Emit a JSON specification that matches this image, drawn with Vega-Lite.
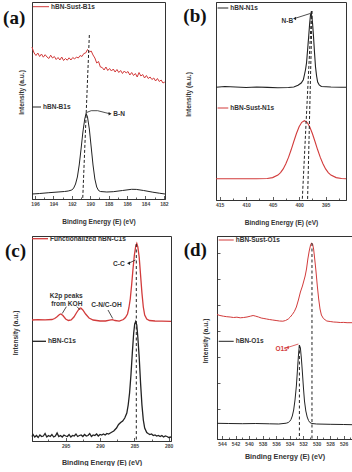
{
"$schema": "https://vega.github.io/schema/vega-lite/v6.json",
"background": "white",
"padding": {"left": 2, "top": 1, "right": 0, "bottom": 0},
"config": {
 "view": {"stroke": "#333", "strokeWidth": 1},
 "axis": {"grid": false, "domainColor": "#333", "domainWidth": 1, "tickColor": "#333", "tickWidth": 0.8, "labelFont": "Liberation Sans", "labelFontSize": 5, "labelFontWeight": "bold", "labelColor": "#444", "titleFont": "Liberation Sans", "titleFontSize": 6.6, "titleFontWeight": "bold", "titleColor": "#333", "labelOverlap": false, "labelFlush": false},
 "text": {"font": "Liberation Sans"}
},
"spacing": 8,
"vconcat": [
{"hconcat": [
{
 "width": 133, "height": 197,
 "encoding": {
  "x": {"field": "e", "type": "quantitative", "scale": {"domain": [196.33, 181.88], "nice": false, "zero": false},
   "axis": {"title": "Binding Energy (E) (eV)", "values": [196,195,194,193,192,191,190,189,188,187,186,185,184,183,182], "labelExpr": "datum.value % 2 === 0 ? datum.label : ''", "tickSize": {"condition": {"test": "datum.value % 2 === 0", "value": -3.5}, "value": -2}, "labelPadding": 6, "titleY": 22, "titleBaseline": "middle"}},
  "y": {"field": "v", "type": "quantitative", "scale": {"domain": [0, 197], "nice": false, "zero": false},
   "axis": {"title": "Intensity (a.u.)", "labels": false, "ticks": false, "titleX": -11, "titleY": 90, "titleBaseline": "middle"}}
 },
 "layer": [
  {"data": {"values": [
   {"e":196.33,"v":152,"s":"hBN-Sust-B1s"},{"e":196.3,"v":151,"s":"hBN-Sust-B1s"},{"e":196.1,"v":146,"s":"hBN-Sust-B1s"},{"e":195.9,"v":143.5,"s":"hBN-Sust-B1s"},{"e":195.7,"v":146,"s":"hBN-Sust-B1s"},{"e":195.5,"v":142.5,"s":"hBN-Sust-B1s"},{"e":195.3,"v":145,"s":"hBN-Sust-B1s"},{"e":195.1,"v":141.8,"s":"hBN-Sust-B1s"},{"e":194.9,"v":144.3,"s":"hBN-Sust-B1s"},{"e":194.7,"v":142,"s":"hBN-Sust-B1s"},{"e":194.5,"v":140.5,"s":"hBN-Sust-B1s"},{"e":194.3,"v":143.8,"s":"hBN-Sust-B1s"},{"e":194.1,"v":141,"s":"hBN-Sust-B1s"},{"e":193.9,"v":142.5,"s":"hBN-Sust-B1s"},{"e":193.7,"v":139.5,"s":"hBN-Sust-B1s"},{"e":193.5,"v":141.5,"s":"hBN-Sust-B1s"},{"e":193.3,"v":139,"s":"hBN-Sust-B1s"},{"e":193.1,"v":142,"s":"hBN-Sust-B1s"},{"e":192.9,"v":138.5,"s":"hBN-Sust-B1s"},{"e":192.7,"v":140.5,"s":"hBN-Sust-B1s"},{"e":192.5,"v":138.8,"s":"hBN-Sust-B1s"},{"e":192.3,"v":141.2,"s":"hBN-Sust-B1s"},{"e":192.1,"v":139,"s":"hBN-Sust-B1s"},{"e":191.9,"v":141.5,"s":"hBN-Sust-B1s"},{"e":191.7,"v":140,"s":"hBN-Sust-B1s"},{"e":191.5,"v":142,"s":"hBN-Sust-B1s"},{"e":191.3,"v":141,"s":"hBN-Sust-B1s"},{"e":191.1,"v":143.5,"s":"hBN-Sust-B1s"},{"e":190.9,"v":142.5,"s":"hBN-Sust-B1s"},{"e":190.7,"v":145.5,"s":"hBN-Sust-B1s"},{"e":190.5,"v":146,"s":"hBN-Sust-B1s"},{"e":190.3,"v":149.5,"s":"hBN-Sust-B1s"},{"e":190.1,"v":147,"s":"hBN-Sust-B1s"},{"e":189.9,"v":148,"s":"hBN-Sust-B1s"},{"e":189.7,"v":144,"s":"hBN-Sust-B1s"},{"e":189.5,"v":141,"s":"hBN-Sust-B1s"},{"e":189.3,"v":136,"s":"hBN-Sust-B1s"},{"e":189.1,"v":137.5,"s":"hBN-Sust-B1s"},{"e":188.9,"v":132,"s":"hBN-Sust-B1s"},{"e":188.7,"v":131.5,"s":"hBN-Sust-B1s"},{"e":188.5,"v":129,"s":"hBN-Sust-B1s"},{"e":188.3,"v":132,"s":"hBN-Sust-B1s"},{"e":188.1,"v":128.5,"s":"hBN-Sust-B1s"},{"e":187.9,"v":130.5,"s":"hBN-Sust-B1s"},{"e":187.7,"v":128,"s":"hBN-Sust-B1s"},{"e":187.5,"v":130,"s":"hBN-Sust-B1s"},{"e":187.3,"v":127,"s":"hBN-Sust-B1s"},{"e":187.1,"v":129.5,"s":"hBN-Sust-B1s"},{"e":186.9,"v":126.5,"s":"hBN-Sust-B1s"},{"e":186.7,"v":128.5,"s":"hBN-Sust-B1s"},{"e":186.5,"v":125.5,"s":"hBN-Sust-B1s"},{"e":186.3,"v":128,"s":"hBN-Sust-B1s"},{"e":186.1,"v":126,"s":"hBN-Sust-B1s"},{"e":185.9,"v":127.5,"s":"hBN-Sust-B1s"},{"e":185.7,"v":124,"s":"hBN-Sust-B1s"},{"e":185.5,"v":126.5,"s":"hBN-Sust-B1s"},{"e":185.3,"v":123.5,"s":"hBN-Sust-B1s"},{"e":185.1,"v":125.5,"s":"hBN-Sust-B1s"},{"e":184.9,"v":122,"s":"hBN-Sust-B1s"},{"e":184.7,"v":126.5,"s":"hBN-Sust-B1s"},{"e":184.5,"v":123,"s":"hBN-Sust-B1s"},{"e":184.3,"v":124.5,"s":"hBN-Sust-B1s"},{"e":184.1,"v":121,"s":"hBN-Sust-B1s"},{"e":183.9,"v":123.5,"s":"hBN-Sust-B1s"},{"e":183.7,"v":120.5,"s":"hBN-Sust-B1s"},{"e":183.5,"v":122,"s":"hBN-Sust-B1s"},{"e":183.3,"v":119.5,"s":"hBN-Sust-B1s"},{"e":183.1,"v":121,"s":"hBN-Sust-B1s"},{"e":182.9,"v":118,"s":"hBN-Sust-B1s"},{"e":182.7,"v":120.5,"s":"hBN-Sust-B1s"},{"e":182.5,"v":117.5,"s":"hBN-Sust-B1s"},{"e":182.3,"v":119,"s":"hBN-Sust-B1s"},{"e":182.1,"v":116,"s":"hBN-Sust-B1s"},{"e":181.9,"v":117,"s":"hBN-Sust-B1s"},
   {"e":196.33,"v":5,"s":"hBN-B1s"},{"e":195.5,"v":5.5,"s":"hBN-B1s"},{"e":194.5,"v":6.3,"s":"hBN-B1s"},{"e":193.5,"v":7,"s":"hBN-B1s"},{"e":192.8,"v":7.5,"s":"hBN-B1s"},{"e":192.4,"v":8,"s":"hBN-B1s"},{"e":192.0,"v":9,"s":"hBN-B1s"},{"e":191.8,"v":11,"s":"hBN-B1s"},{"e":191.6,"v":15,"s":"hBN-B1s"},{"e":191.4,"v":22,"s":"hBN-B1s"},{"e":191.2,"v":34,"s":"hBN-B1s"},{"e":191.0,"v":50,"s":"hBN-B1s"},{"e":190.8,"v":67,"s":"hBN-B1s"},{"e":190.6,"v":80,"s":"hBN-B1s"},{"e":190.45,"v":85.7,"s":"hBN-B1s"},{"e":190.3,"v":82,"s":"hBN-B1s"},{"e":190.1,"v":70,"s":"hBN-B1s"},{"e":189.9,"v":52,"s":"hBN-B1s"},{"e":189.7,"v":34,"s":"hBN-B1s"},{"e":189.5,"v":20,"s":"hBN-B1s"},{"e":189.3,"v":12,"s":"hBN-B1s"},{"e":189.1,"v":8.5,"s":"hBN-B1s"},{"e":188.9,"v":7.5,"s":"hBN-B1s"},{"e":188.2,"v":7,"s":"hBN-B1s"},{"e":187.5,"v":7.3,"s":"hBN-B1s"},{"e":186.5,"v":8.5,"s":"hBN-B1s"},{"e":185.5,"v":9.7,"s":"hBN-B1s"},{"e":185.0,"v":9.6,"s":"hBN-B1s"},{"e":184.2,"v":8.5,"s":"hBN-B1s"},{"e":183.2,"v":6.8,"s":"hBN-B1s"},{"e":182.5,"v":5.8,"s":"hBN-B1s"},{"e":181.88,"v":5,"s":"hBN-B1s"}
  ]},
   "mark": {"type": "line", "strokeWidth": 1},
   "encoding": {"color": {"field": "s", "type": "nominal", "scale": {"domain": ["hBN-Sust-B1s", "hBN-B1s"], "range": ["#d23b3b", "#222222"]}, "legend": null}}},
  {"data": {"values": [{"e":196.22,"e2":194.48,"v":192.3,"s":"hBN-Sust-B1s"},{"e":196.33,"e2":195.35,"v":92,"s":"hBN-B1s"}]},
   "mark": {"type": "rule", "strokeWidth": 1},
   "encoding": {"x2": {"field": "e2"}, "color": {"field": "s", "type": "nominal", "scale": {"domain": ["hBN-Sust-B1s", "hBN-B1s"], "range": ["#d23b3b", "#222222"]}, "legend": null}}},
  {"data": {"values": [{"e":190.1,"v":164,"e2":190.82,"v2":0}]},
   "mark": {"type": "rule", "strokeDash": [3, 2], "strokeWidth": 1, "color": "#222"},
   "encoding": {"x2": {"field": "e2"}, "y2": {"field": "v2"}}},
  {"data": {"values": [{"e":190.4,"v":86.5,"o":1},{"e":189.9,"v":88.3,"o":2},{"e":189.2,"v":88.3,"o":3},{"e":188.3,"v":86.2,"o":4},{"e":187.9,"v":85.3,"o":5}]},
   "mark": {"type": "line", "color": "#222", "strokeWidth": 0.8},
   "encoding": {"order": {"field": "o", "type": "quantitative"}}},
  {"data": {"values": [{"e":187.85,"v":85.2}]},
   "mark": {"type": "point", "shape": "triangle-right", "filled": true, "size": 12, "color": "#222", "opacity": 1}},
  {"data": {"values": [{"e":194.26,"v":192.3,"t":"hBN-Sust-B1s"},{"e":195.13,"v":92,"t":"hBN-B1s"},{"e":187.5,"v":85,"t":"B-N"}]},
   "mark": {"type": "text", "font": "Liberation Sans", "fontWeight": "bold", "fontSize": 6.5, "color": "#333", "align": "left", "baseline": "middle"},
   "encoding": {"text": {"field": "t"}}},
  {"data": {"values": [{"e":199.47,"v":181.5,"t":"(a)"}]},
   "mark": {"type": "text", "font": "Liberation Serif", "fontWeight": "bold", "fontSize": 19, "color": "#111", "align": "left", "baseline": "middle"},
   "encoding": {"text": {"field": "t"}}}
 ]
},
{
 "width": 130, "height": 198,
 "encoding": {
  "x": {"field": "e", "type": "quantitative", "scale": {"domain": [415.68, 391.15], "nice": false, "zero": false},
   "axis": {"title": "Binding Energy (E) (eV)", "values": [415,412.5,410,407.5,405,402.5,400,397.5,395,392.5], "labelExpr": "datum.value % 5 === 0 ? datum.label : ''", "tickSize": {"condition": {"test": "datum.value % 5 === 0", "value": -3.5}, "value": -2}, "labelPadding": 6, "titleY": 22, "titleBaseline": "middle"}},
  "y": {"field": "v", "type": "quantitative", "scale": {"domain": [0, 198], "nice": false, "zero": false},
   "axis": {"title": "Intensity (a.u.)", "labels": false, "ticks": false, "titleX": -28, "titleY": 92, "titleBaseline": "middle"}}
 },
 "layer": [
  {"data": {"values": [
   {"e":415.68,"v":112.7,"s":"hBN-N1s"},{"e":414,"v":113.5,"s":"hBN-N1s"},{"e":412,"v":113,"s":"hBN-N1s"},{"e":410,"v":112.5,"s":"hBN-N1s"},{"e":408,"v":113,"s":"hBN-N1s"},{"e":406,"v":112.6,"s":"hBN-N1s"},{"e":404,"v":112.2,"s":"hBN-N1s"},{"e":402,"v":112.5,"s":"hBN-N1s"},{"e":401,"v":113,"s":"hBN-N1s"},{"e":400.2,"v":114.7,"s":"hBN-N1s"},{"e":399.6,"v":117,"s":"hBN-N1s"},{"e":399.2,"v":120.3,"s":"hBN-N1s"},{"e":399,"v":125,"s":"hBN-N1s"},{"e":398.8,"v":130,"s":"hBN-N1s"},{"e":398.6,"v":137,"s":"hBN-N1s"},{"e":398.4,"v":150,"s":"hBN-N1s"},{"e":398.2,"v":163,"s":"hBN-N1s"},{"e":398,"v":177,"s":"hBN-N1s"},{"e":397.85,"v":185,"s":"hBN-N1s"},{"e":397.75,"v":187,"s":"hBN-N1s"},{"e":397.6,"v":184,"s":"hBN-N1s"},{"e":397.45,"v":176,"s":"hBN-N1s"},{"e":397.3,"v":165,"s":"hBN-N1s"},{"e":397.1,"v":148,"s":"hBN-N1s"},{"e":396.9,"v":133,"s":"hBN-N1s"},{"e":396.7,"v":124,"s":"hBN-N1s"},{"e":396.5,"v":118,"s":"hBN-N1s"},{"e":396.2,"v":115,"s":"hBN-N1s"},{"e":395.8,"v":113.5,"s":"hBN-N1s"},{"e":394,"v":113,"s":"hBN-N1s"},{"e":392,"v":112.7,"s":"hBN-N1s"},{"e":391.15,"v":112.7,"s":"hBN-N1s"},
   {"e":415.68,"v":21.3,"s":"hBN-Sust-N1s"},{"e":408,"v":21.3,"s":"hBN-Sust-N1s"},{"e":406,"v":21.5,"s":"hBN-Sust-N1s"},{"e":405,"v":22.4,"s":"hBN-Sust-N1s"},{"e":404,"v":24.9,"s":"hBN-Sust-N1s"},{"e":403.5,"v":27.4,"s":"hBN-Sust-N1s"},{"e":403,"v":31.1,"s":"hBN-Sust-N1s"},{"e":402.5,"v":36.2,"s":"hBN-Sust-N1s"},{"e":402,"v":42.6,"s":"hBN-Sust-N1s"},{"e":401.5,"v":50.2,"s":"hBN-Sust-N1s"},{"e":401,"v":58.5,"s":"hBN-Sust-N1s"},{"e":400.5,"v":66.5,"s":"hBN-Sust-N1s"},{"e":400,"v":73.2,"s":"hBN-Sust-N1s"},{"e":399.5,"v":77.7,"s":"hBN-Sust-N1s"},{"e":399,"v":79.3,"s":"hBN-Sust-N1s"},{"e":398.5,"v":77.7,"s":"hBN-Sust-N1s"},{"e":398,"v":73.2,"s":"hBN-Sust-N1s"},{"e":397.5,"v":66.5,"s":"hBN-Sust-N1s"},{"e":397,"v":58.5,"s":"hBN-Sust-N1s"},{"e":396.5,"v":50.2,"s":"hBN-Sust-N1s"},{"e":396,"v":42.6,"s":"hBN-Sust-N1s"},{"e":395.5,"v":36.2,"s":"hBN-Sust-N1s"},{"e":395,"v":31.1,"s":"hBN-Sust-N1s"},{"e":394.5,"v":27.4,"s":"hBN-Sust-N1s"},{"e":394,"v":24.9,"s":"hBN-Sust-N1s"},{"e":393,"v":22.4,"s":"hBN-Sust-N1s"},{"e":392,"v":21.5,"s":"hBN-Sust-N1s"},{"e":391.15,"v":21.3,"s":"hBN-Sust-N1s"}
  ]},
   "mark": {"type": "line", "strokeWidth": 1.1},
   "encoding": {"color": {"field": "s", "type": "nominal", "scale": {"domain": ["hBN-Sust-N1s", "hBN-N1s"], "range": ["#d23b3b", "#222222"]}, "legend": null}}},
  {"data": {"values": [{"e":415.38,"e2":413.36,"v":192,"s":"hBN-N1s"},{"e":415.38,"e2":413.36,"v":92,"s":"hBN-Sust-N1s"}]},
   "mark": {"type": "rule", "strokeWidth": 1},
   "encoding": {"x2": {"field": "e2"}, "color": {"field": "s", "type": "nominal", "scale": {"domain": ["hBN-Sust-N1s", "hBN-N1s"], "range": ["#d23b3b", "#222222"]}, "legend": null}}},
  {"data": {"values": [{"e":397.64,"v":189,"e2":399.4,"v2":0},{"e":397.55,"v":189,"e2":398.4,"v2":0}]},
   "mark": {"type": "rule", "strokeDash": [3, 2], "strokeWidth": 1, "color": "#222"},
   "encoding": {"x2": {"field": "e2"}, "y2": {"field": "v2"}}},
  {"data": {"values": [{"e":400.8,"v":181.6,"o":1},{"e":397.9,"v":186.5,"o":2}]},
   "mark": {"type": "line", "color": "#222", "strokeWidth": 0.8},
   "encoding": {"order": {"field": "o", "type": "quantitative"}}},
  {"data": {"values": [{"e":400.85,"v":181.5}]},
   "mark": {"type": "point", "shape": "triangle-left", "filled": true, "size": 12, "color": "#222", "opacity": 1}},
  {"data": {"values": [{"e":412.98,"v":192,"t":"hBN-N1s"},{"e":412.98,"v":92,"t":"hBN-Sust-N1s"},{"e":403.3,"v":179.3,"t":"N-B"}]},
   "mark": {"type": "text", "font": "Liberation Sans", "fontWeight": "bold", "fontSize": 6.5, "color": "#333", "align": "left", "baseline": "middle"},
   "encoding": {"text": {"field": "t"}}},
  {"data": {"values": [{"e":421.85,"v":184.5,"t":"(b)"}]},
   "mark": {"type": "text", "font": "Liberation Serif", "fontWeight": "bold", "fontSize": 19, "color": "#111", "align": "left", "baseline": "middle"},
   "encoding": {"text": {"field": "t"}}}
 ]
}
], "spacing": 13},
{"hconcat": [
{
 "width": 139, "height": 205,
 "encoding": {
  "x": {"field": "e", "type": "quantitative", "scale": {"domain": [299.9, 279.67], "nice": false, "zero": false},
   "axis": {"title": "Binding Energy (E) (eV)", "values": [300,297.5,295,292.5,290,287.5,285,282.5,280], "labelExpr": "datum.value % 5 === 0 ? datum.label : ''", "tickSize": {"condition": {"test": "datum.value % 5 === 0", "value": -3.5}, "value": -2}, "labelPadding": 6, "titleY": 21, "titleBaseline": "middle", "titleFontSize": 7.2}},
  "y": {"field": "v", "type": "quantitative", "scale": {"domain": [0, 205], "nice": false, "zero": false},
   "axis": {"title": "Intensity (a.u.)", "labels": false, "ticks": false, "titleX": -17, "titleY": 96.5, "titleBaseline": "middle"}}
 },
 "layer": [
  {"data": {"values": [
   {"e":299.9,"v":121,"s":"Functionalized hBN-C1s"},{"e":299,"v":121.3,"s":"Functionalized hBN-C1s"},{"e":298,"v":121.2,"s":"Functionalized hBN-C1s"},{"e":297,"v":121.5,"s":"Functionalized hBN-C1s"},{"e":296.6,"v":122.5,"s":"Functionalized hBN-C1s"},{"e":296.3,"v":124,"s":"Functionalized hBN-C1s"},{"e":295.9,"v":126.5,"s":"Functionalized hBN-C1s"},{"e":295.7,"v":127,"s":"Functionalized hBN-C1s"},{"e":295.4,"v":125.5,"s":"Functionalized hBN-C1s"},{"e":295,"v":122,"s":"Functionalized hBN-C1s"},{"e":294.6,"v":120.5,"s":"Functionalized hBN-C1s"},{"e":294.2,"v":121,"s":"Functionalized hBN-C1s"},{"e":293.8,"v":124,"s":"Functionalized hBN-C1s"},{"e":293.4,"v":128.5,"s":"Functionalized hBN-C1s"},{"e":293,"v":132.5,"s":"Functionalized hBN-C1s"},{"e":292.8,"v":133,"s":"Functionalized hBN-C1s"},{"e":292.5,"v":131,"s":"Functionalized hBN-C1s"},{"e":292.1,"v":127,"s":"Functionalized hBN-C1s"},{"e":291.6,"v":123,"s":"Functionalized hBN-C1s"},{"e":291,"v":121,"s":"Functionalized hBN-C1s"},{"e":290,"v":120,"s":"Functionalized hBN-C1s"},{"e":289.2,"v":120,"s":"Functionalized hBN-C1s"},{"e":288.6,"v":120.8,"s":"Functionalized hBN-C1s"},{"e":288.2,"v":121.3,"s":"Functionalized hBN-C1s"},{"e":287.8,"v":120.5,"s":"Functionalized hBN-C1s"},{"e":287.2,"v":119.8,"s":"Functionalized hBN-C1s"},{"e":286.6,"v":121.5,"s":"Functionalized hBN-C1s"},{"e":286.3,"v":123.5,"s":"Functionalized hBN-C1s"},{"e":286,"v":127,"s":"Functionalized hBN-C1s"},{"e":285.8,"v":133,"s":"Functionalized hBN-C1s"},{"e":285.6,"v":142,"s":"Functionalized hBN-C1s"},{"e":285.4,"v":156,"s":"Functionalized hBN-C1s"},{"e":285.2,"v":172,"s":"Functionalized hBN-C1s"},{"e":285,"v":186,"s":"Functionalized hBN-C1s"},{"e":284.8,"v":195,"s":"Functionalized hBN-C1s"},{"e":284.65,"v":197.5,"s":"Functionalized hBN-C1s"},{"e":284.5,"v":194,"s":"Functionalized hBN-C1s"},{"e":284.3,"v":184,"s":"Functionalized hBN-C1s"},{"e":284.1,"v":166,"s":"Functionalized hBN-C1s"},{"e":283.9,"v":148,"s":"Functionalized hBN-C1s"},{"e":283.7,"v":134,"s":"Functionalized hBN-C1s"},{"e":283.5,"v":126,"s":"Functionalized hBN-C1s"},{"e":283.2,"v":122,"s":"Functionalized hBN-C1s"},{"e":282.8,"v":120.5,"s":"Functionalized hBN-C1s"},{"e":282,"v":120,"s":"Functionalized hBN-C1s"},{"e":281,"v":119.8,"s":"Functionalized hBN-C1s"},{"e":279.67,"v":119.7,"s":"Functionalized hBN-C1s"},
   {"e":299.9,"v":4.5,"s":"hBN-C1s"},{"e":299.75,"v":6.5,"s":"hBN-C1s"},{"e":299.5,"v":4,"s":"hBN-C1s"},{"e":299.25,"v":5.5,"s":"hBN-C1s"},{"e":299,"v":3.5,"s":"hBN-C1s"},{"e":298.75,"v":6,"s":"hBN-C1s"},{"e":298.5,"v":4.5,"s":"hBN-C1s"},{"e":298.25,"v":5,"s":"hBN-C1s"},{"e":298,"v":7.5,"s":"hBN-C1s"},{"e":297.75,"v":4,"s":"hBN-C1s"},{"e":297.5,"v":5.5,"s":"hBN-C1s"},{"e":297.25,"v":4.5,"s":"hBN-C1s"},{"e":297,"v":6.5,"s":"hBN-C1s"},{"e":296.75,"v":4,"s":"hBN-C1s"},{"e":296.5,"v":5,"s":"hBN-C1s"},{"e":296.25,"v":8,"s":"hBN-C1s"},{"e":296,"v":4.5,"s":"hBN-C1s"},{"e":295.75,"v":5.5,"s":"hBN-C1s"},{"e":295.5,"v":4,"s":"hBN-C1s"},{"e":295.25,"v":6,"s":"hBN-C1s"},{"e":295,"v":5,"s":"hBN-C1s"},{"e":294.75,"v":4.5,"s":"hBN-C1s"},{"e":294.5,"v":6.5,"s":"hBN-C1s"},{"e":294.25,"v":4,"s":"hBN-C1s"},{"e":294,"v":5.5,"s":"hBN-C1s"},{"e":293.75,"v":5,"s":"hBN-C1s"},{"e":293.5,"v":7,"s":"hBN-C1s"},{"e":293.25,"v":4.5,"s":"hBN-C1s"},{"e":293,"v":5.5,"s":"hBN-C1s"},{"e":292.75,"v":6,"s":"hBN-C1s"},{"e":292.5,"v":4.5,"s":"hBN-C1s"},{"e":292.25,"v":6.5,"s":"hBN-C1s"},{"e":292,"v":5,"s":"hBN-C1s"},{"e":291.75,"v":5.5,"s":"hBN-C1s"},{"e":291.5,"v":7.5,"s":"hBN-C1s"},{"e":291.25,"v":4.5,"s":"hBN-C1s"},{"e":291,"v":6,"s":"hBN-C1s"},{"e":290.75,"v":5.5,"s":"hBN-C1s"},{"e":290.5,"v":7,"s":"hBN-C1s"},{"e":290.25,"v":5,"s":"hBN-C1s"},{"e":290,"v":6.5,"s":"hBN-C1s"},{"e":289.75,"v":6,"s":"hBN-C1s"},{"e":289.5,"v":7,"s":"hBN-C1s"},{"e":289.25,"v":6,"s":"hBN-C1s"},{"e":289,"v":7.5,"s":"hBN-C1s"},{"e":288.75,"v":7,"s":"hBN-C1s"},{"e":288.5,"v":8,"s":"hBN-C1s"},{"e":288.25,"v":9,"s":"hBN-C1s"},{"e":288,"v":10,"s":"hBN-C1s"},{"e":287.6,"v":13,"s":"hBN-C1s"},{"e":287.3,"v":16.5,"s":"hBN-C1s"},{"e":287,"v":18.5,"s":"hBN-C1s"},{"e":286.7,"v":20,"s":"hBN-C1s"},{"e":286.4,"v":23,"s":"hBN-C1s"},{"e":286.1,"v":28,"s":"hBN-C1s"},{"e":285.9,"v":36,"s":"hBN-C1s"},{"e":285.7,"v":48,"s":"hBN-C1s"},{"e":285.5,"v":66,"s":"hBN-C1s"},{"e":285.3,"v":88,"s":"hBN-C1s"},{"e":285.1,"v":108,"s":"hBN-C1s"},{"e":284.95,"v":117,"s":"hBN-C1s"},{"e":284.8,"v":119.5,"s":"hBN-C1s"},{"e":284.65,"v":116,"s":"hBN-C1s"},{"e":284.5,"v":104,"s":"hBN-C1s"},{"e":284.3,"v":84,"s":"hBN-C1s"},{"e":284.1,"v":58,"s":"hBN-C1s"},{"e":283.9,"v":36,"s":"hBN-C1s"},{"e":283.7,"v":21,"s":"hBN-C1s"},{"e":283.5,"v":13,"s":"hBN-C1s"},{"e":283.2,"v":8.5,"s":"hBN-C1s"},{"e":283,"v":7.5,"s":"hBN-C1s"},{"e":282.75,"v":6.5,"s":"hBN-C1s"},{"e":282.5,"v":7,"s":"hBN-C1s"},{"e":282.25,"v":5.5,"s":"hBN-C1s"},{"e":282,"v":6,"s":"hBN-C1s"},{"e":281.75,"v":5,"s":"hBN-C1s"},{"e":281.5,"v":5.5,"s":"hBN-C1s"},{"e":281.25,"v":4.5,"s":"hBN-C1s"},{"e":281,"v":5.5,"s":"hBN-C1s"},{"e":280.75,"v":4,"s":"hBN-C1s"},{"e":280.5,"v":5,"s":"hBN-C1s"},{"e":280.25,"v":4.5,"s":"hBN-C1s"},{"e":280,"v":3.5,"s":"hBN-C1s"},{"e":279.67,"v":4,"s":"hBN-C1s"}
  ]},
   "mark": {"type": "line", "strokeWidth": 1.3},
   "encoding": {"color": {"field": "s", "type": "nominal", "scale": {"domain": ["Functionalized hBN-C1s", "hBN-C1s"], "range": ["#d23b3b", "#111111"]}, "legend": null}}},
  {"data": {"values": [{"e":299.9,"e2":297.57,"v":202.3,"s":"Functionalized hBN-C1s"},{"e":299.9,"e2":297.86,"v":99.7,"s":"hBN-C1s"}]},
   "mark": {"type": "rule", "strokeWidth": 1.3},
   "encoding": {"x2": {"field": "e2"}, "color": {"field": "s", "type": "nominal", "scale": {"domain": ["Functionalized hBN-C1s", "hBN-C1s"], "range": ["#d23b3b", "#111111"]}, "legend": null}}},
  {"data": {"values": [{"e":284.72,"v":197,"e2":284.72,"v2":0}]},
   "mark": {"type": "rule", "strokeDash": [3, 2.5], "strokeWidth": 1, "color": "#222"},
   "encoding": {"x2": {"field": "e2"}, "y2": {"field": "v2"}}},
  {"data": {"values": [{"e":285.75,"v":178,"o":1,"k":"cc"},{"e":284.85,"v":181,"o":2,"k":"cc"},{"e":294.9,"v":134.3,"o":1,"k":"k1"},{"e":295.5,"v":127.5,"o":2,"k":"k1"},{"e":293.35,"v":134.3,"o":1,"k":"k2"},{"e":292.87,"v":131,"o":2,"k":"k2"},{"e":288.84,"v":131,"o":1,"k":"cn"},{"e":288.15,"v":122.5,"o":2,"k":"cn"}]},
   "mark": {"type": "line", "color": "#222", "strokeWidth": 0.8},
   "encoding": {"detail": {"field": "k"}, "order": {"field": "o", "type": "quantitative"}}},
  {"data": {"values": [{"e":285.85,"v":177.8}]},
   "mark": {"type": "point", "shape": "triangle-left", "filled": true, "size": 12, "color": "#222", "opacity": 1}},
  {"data": {"values": [{"e":297.28,"v":202.3,"t":"Functionalized hBN-C1s"},{"e":297.57,"v":99.7,"t":"hBN-C1s"},{"e":288.11,"v":177,"t":"C-C"},{"e":297.32,"v":145.3,"t":"K2p peaks"},{"e":297.09,"v":137,"t":"from KOH"},{"e":291.27,"v":136.3,"t":"C-N/C-OH"}]},
   "mark": {"type": "text", "font": "Liberation Sans", "fontWeight": "bold", "fontSize": 6.6, "color": "#333", "align": "left", "baseline": "middle"},
   "encoding": {"text": {"field": "t"}}},
  {"data": {"values": [{"e":303.83,"v":190,"t":"(c)"}]},
   "mark": {"type": "text", "font": "Liberation Serif", "fontWeight": "bold", "fontSize": 19, "color": "#111", "align": "left", "baseline": "middle"},
   "encoding": {"text": {"field": "t"}}}
 ]
},
{
 "width": 135, "height": 203,
 "encoding": {
  "x": {"field": "e", "type": "quantitative", "scale": {"domain": [544.74, 524.77], "nice": false, "zero": false},
   "axis": {"title": "Binding Energy (E) (eV)", "values": [544,543,542,541,540,539,538,537,536,535,534,533,532,531,530,529,528,527,526,525], "labelExpr": "datum.value % 2 === 0 ? datum.label : ''", "tickSize": {"condition": {"test": "datum.value % 2 === 0", "value": -3.5}, "value": -2}, "labelPadding": 6, "titleY": 17, "titleBaseline": "middle", "titleFontSize": 7.2}},
  "y": {"field": "v", "type": "quantitative", "scale": {"domain": [0, 203], "nice": false, "zero": false},
   "axis": {"title": "Intensity (a.u.)", "labels": false, "ticks": true, "tickSize": -3, "values": [30,56,82,108,134,160,186], "titleX": -11.6, "titleY": 104.5, "titleBaseline": "middle"}}
 },
 "layer": [
  {"data": {"values": [
   {"e":544.74,"v":124.5,"s":"hBN-Sust-O1s"},{"e":544.3,"v":123.5,"s":"hBN-Sust-O1s"},{"e":543.8,"v":122.8,"s":"hBN-Sust-O1s"},{"e":543.3,"v":122.3,"s":"hBN-Sust-O1s"},{"e":542.8,"v":122,"s":"hBN-Sust-O1s"},{"e":542.3,"v":121.5,"s":"hBN-Sust-O1s"},{"e":541.8,"v":121.8,"s":"hBN-Sust-O1s"},{"e":541.3,"v":121.2,"s":"hBN-Sust-O1s"},{"e":540.8,"v":121.5,"s":"hBN-Sust-O1s"},{"e":540.3,"v":122,"s":"hBN-Sust-O1s"},{"e":539.8,"v":122.8,"s":"hBN-Sust-O1s"},{"e":539.4,"v":123.5,"s":"hBN-Sust-O1s"},{"e":539,"v":122.8,"s":"hBN-Sust-O1s"},{"e":538.6,"v":122,"s":"hBN-Sust-O1s"},{"e":538.2,"v":121,"s":"hBN-Sust-O1s"},{"e":537.8,"v":120.5,"s":"hBN-Sust-O1s"},{"e":537.4,"v":120,"s":"hBN-Sust-O1s"},{"e":537,"v":119.5,"s":"hBN-Sust-O1s"},{"e":536.5,"v":119,"s":"hBN-Sust-O1s"},{"e":536,"v":118.5,"s":"hBN-Sust-O1s"},{"e":535.5,"v":118,"s":"hBN-Sust-O1s"},{"e":535,"v":117.8,"s":"hBN-Sust-O1s"},{"e":534.6,"v":118.5,"s":"hBN-Sust-O1s"},{"e":534.2,"v":120,"s":"hBN-Sust-O1s"},{"e":533.9,"v":122,"s":"hBN-Sust-O1s"},{"e":533.6,"v":124.5,"s":"hBN-Sust-O1s"},{"e":533.3,"v":127.5,"s":"hBN-Sust-O1s"},{"e":533,"v":132,"s":"hBN-Sust-O1s"},{"e":532.7,"v":139,"s":"hBN-Sust-O1s"},{"e":532.4,"v":147,"s":"hBN-Sust-O1s"},{"e":532.1,"v":153,"s":"hBN-Sust-O1s"},{"e":531.9,"v":158,"s":"hBN-Sust-O1s"},{"e":531.7,"v":163,"s":"hBN-Sust-O1s"},{"e":531.5,"v":170,"s":"hBN-Sust-O1s"},{"e":531.3,"v":180,"s":"hBN-Sust-O1s"},{"e":531.1,"v":188,"s":"hBN-Sust-O1s"},{"e":530.9,"v":194,"s":"hBN-Sust-O1s"},{"e":530.75,"v":196,"s":"hBN-Sust-O1s"},{"e":530.6,"v":195,"s":"hBN-Sust-O1s"},{"e":530.45,"v":190,"s":"hBN-Sust-O1s"},{"e":530.3,"v":181,"s":"hBN-Sust-O1s"},{"e":530.1,"v":168,"s":"hBN-Sust-O1s"},{"e":529.9,"v":153,"s":"hBN-Sust-O1s"},{"e":529.7,"v":140,"s":"hBN-Sust-O1s"},{"e":529.5,"v":130,"s":"hBN-Sust-O1s"},{"e":529.3,"v":124,"s":"hBN-Sust-O1s"},{"e":529,"v":120.5,"s":"hBN-Sust-O1s"},{"e":528.5,"v":118,"s":"hBN-Sust-O1s"},{"e":528,"v":117.5,"s":"hBN-Sust-O1s"},{"e":527.5,"v":117,"s":"hBN-Sust-O1s"},{"e":527,"v":116.8,"s":"hBN-Sust-O1s"},{"e":526.5,"v":116.5,"s":"hBN-Sust-O1s"},{"e":526,"v":116.6,"s":"hBN-Sust-O1s"},{"e":525.5,"v":116.3,"s":"hBN-Sust-O1s"},{"e":524.77,"v":116.3,"s":"hBN-Sust-O1s"},
   {"e":544.74,"v":15.7,"s":"hBN-O1s"},{"e":543,"v":15.5,"s":"hBN-O1s"},{"e":541,"v":15.3,"s":"hBN-O1s"},{"e":539,"v":15.5,"s":"hBN-O1s"},{"e":537,"v":15.2,"s":"hBN-O1s"},{"e":535.6,"v":15,"s":"hBN-O1s"},{"e":534.5,"v":15.8,"s":"hBN-O1s"},{"e":534.2,"v":16.5,"s":"hBN-O1s"},{"e":534,"v":17.5,"s":"hBN-O1s"},{"e":533.8,"v":19.5,"s":"hBN-O1s"},{"e":533.6,"v":23,"s":"hBN-O1s"},{"e":533.4,"v":29,"s":"hBN-O1s"},{"e":533.2,"v":39,"s":"hBN-O1s"},{"e":533,"v":53,"s":"hBN-O1s"},{"e":532.85,"v":68,"s":"hBN-O1s"},{"e":532.7,"v":83,"s":"hBN-O1s"},{"e":532.55,"v":94,"s":"hBN-O1s"},{"e":532.4,"v":91,"s":"hBN-O1s"},{"e":532.25,"v":80,"s":"hBN-O1s"},{"e":532.1,"v":66,"s":"hBN-O1s"},{"e":531.95,"v":51,"s":"hBN-O1s"},{"e":531.8,"v":38,"s":"hBN-O1s"},{"e":531.6,"v":28,"s":"hBN-O1s"},{"e":531.4,"v":22,"s":"hBN-O1s"},{"e":531.2,"v":18.5,"s":"hBN-O1s"},{"e":531,"v":16.5,"s":"hBN-O1s"},{"e":530.7,"v":15.5,"s":"hBN-O1s"},{"e":530,"v":15,"s":"hBN-O1s"},{"e":528,"v":14.7,"s":"hBN-O1s"},{"e":526,"v":14.5,"s":"hBN-O1s"},{"e":524.77,"v":14.3,"s":"hBN-O1s"}
  ]},
   "mark": {"type": "line", "strokeWidth": 1},
   "encoding": {"color": {"field": "s", "type": "nominal", "scale": {"domain": ["hBN-Sust-O1s", "hBN-O1s"], "range": ["#d23b3b", "#222222"]}, "legend": null}}},
  {"data": {"values": [{"e":544.49,"e2":542.27,"v":199,"s":"hBN-Sust-O1s"},{"e":544.49,"e2":542.27,"v":97.7,"s":"hBN-O1s"}]},
   "mark": {"type": "rule", "strokeWidth": 1},
   "encoding": {"x2": {"field": "e2"}, "color": {"field": "s", "type": "nominal", "scale": {"domain": ["hBN-Sust-O1s", "hBN-O1s"], "range": ["#d23b3b", "#222222"]}, "legend": null}}},
  {"data": {"values": [{"e":532.55,"v":94,"e2":532.55,"v2":0},{"e":530.69,"v":196,"e2":530.69,"v2":0}]},
   "mark": {"type": "rule", "strokeDash": [3, 2.5], "strokeWidth": 1, "color": "#222"},
   "encoding": {"x2": {"field": "e2"}, "y2": {"field": "v2"}}},
  {"data": {"values": [{"e":532.7,"v":95,"o":1},{"e":534.3,"v":91.5,"o":2}]},
   "mark": {"type": "line", "color": "#d23b3b", "strokeWidth": 0.8},
   "encoding": {"order": {"field": "o", "type": "quantitative"}}},
  {"data": {"values": [{"e":534.35,"v":91.4}]},
   "mark": {"type": "point", "shape": "triangle-left", "filled": true, "size": 12, "color": "#d23b3b", "opacity": 1}},
  {"data": {"values": [{"e":541.97,"v":199,"t":"hBN-Sust-O1s"},{"e":541.97,"v":97.7,"t":"hBN-O1s"}]},
   "mark": {"type": "text", "font": "Liberation Sans", "fontWeight": "bold", "fontSize": 6.5, "color": "#333", "align": "left", "baseline": "middle"},
   "encoding": {"text": {"field": "t"}}},
  {"data": {"values": [{"e":536.1,"v":90,"t":"O1s"}]},
   "mark": {"type": "text", "font": "Liberation Sans", "fontWeight": "bold", "fontSize": 6.5, "color": "#d23b3b", "align": "left", "baseline": "middle"},
   "encoding": {"text": {"field": "t"}}},
  {"data": {"values": [{"e":549.67,"v":189.5,"t":"(d)"}]},
   "mark": {"type": "text", "font": "Liberation Serif", "fontWeight": "bold", "fontSize": 19, "color": "#111", "align": "left", "baseline": "middle"},
   "encoding": {"text": {"field": "t"}}}
 ]
}
], "spacing": 8}
]
}
